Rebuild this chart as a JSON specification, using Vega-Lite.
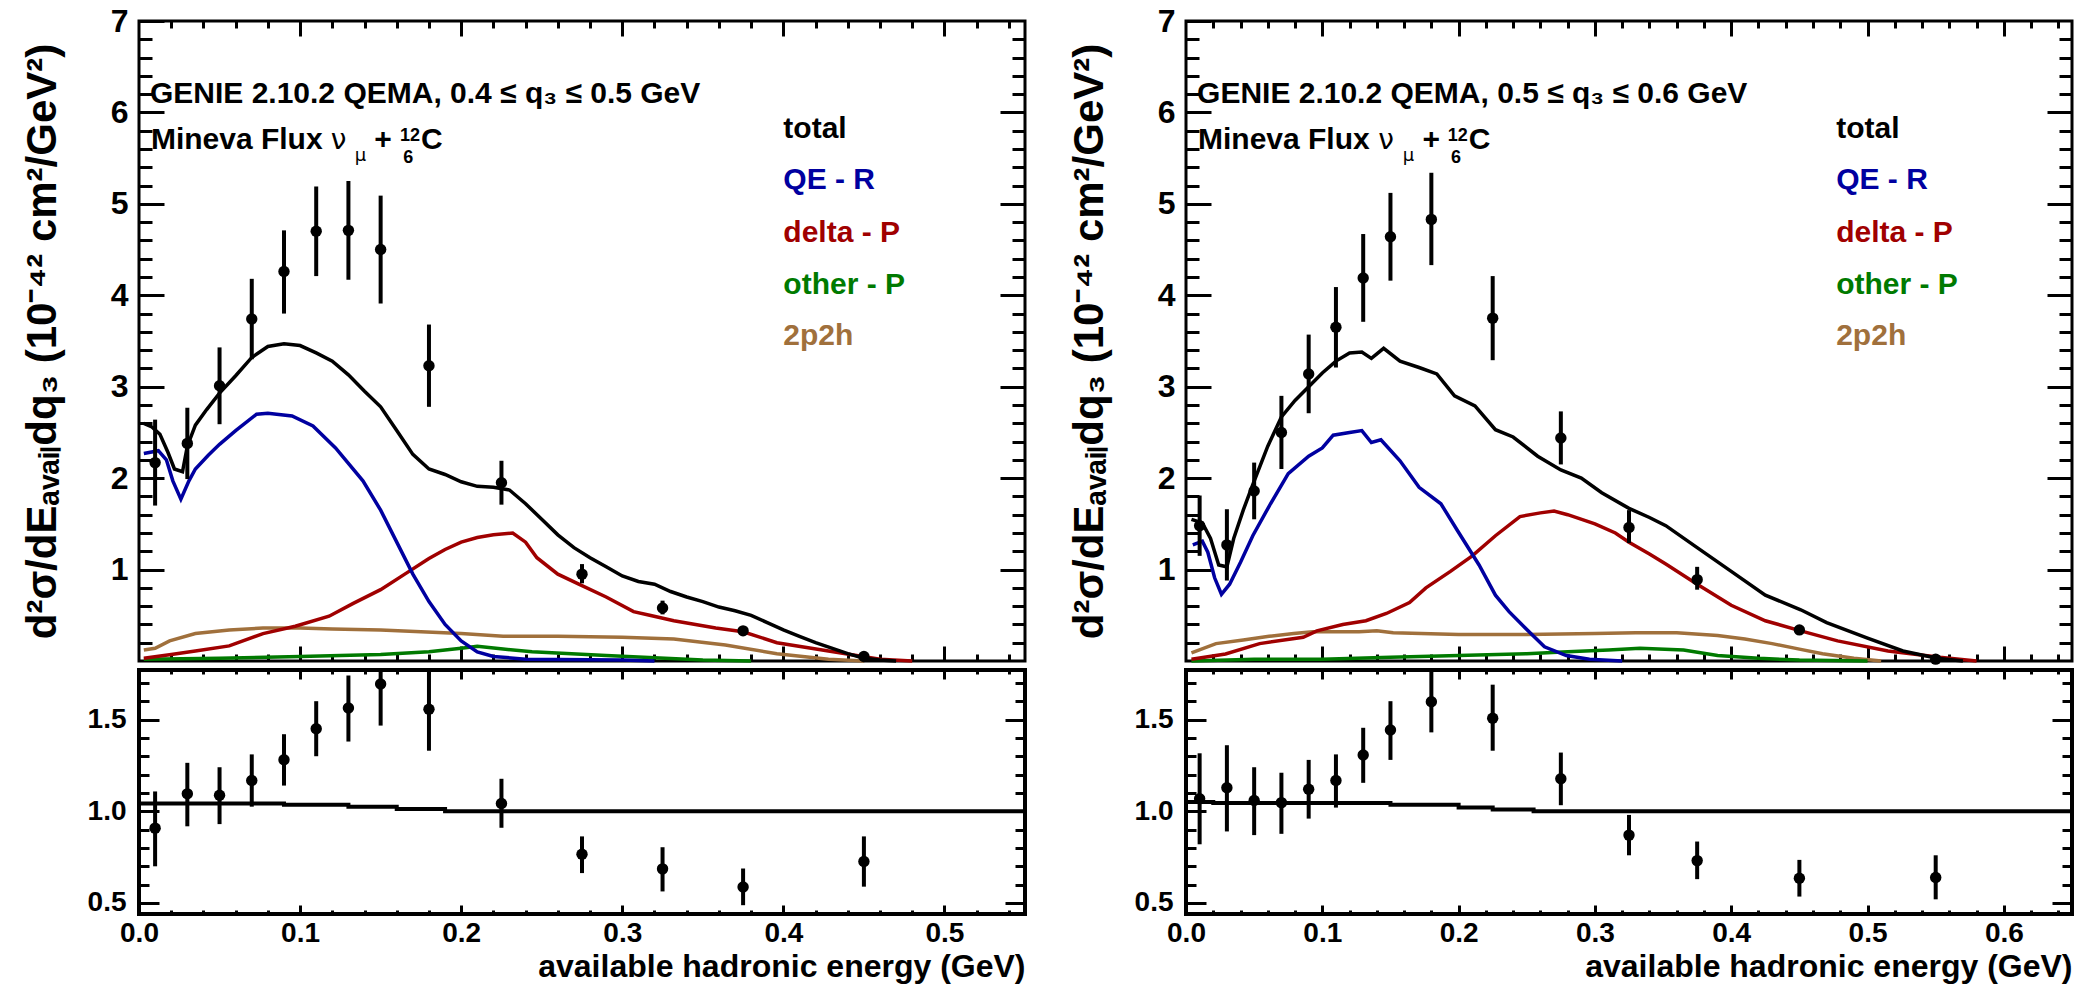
{
  "$schema": "https://vega.github.io/schema/vega-lite/v6.json",
  "background": "white",
  "padding": {"left": 19, "top": 3, "right": 5, "bottom": 2},
  "datasets": {
    "curves": [
      {"p":"L","s":"2p2h","x":0.003,"y":0.12},{"p":"L","s":"2p2h","x":0.01,"y":0.14},{"p":"L","s":"2p2h","x":0.019,"y":0.22},{"p":"L","s":"2p2h","x":0.035,"y":0.3},{"p":"L","s":"2p2h","x":0.056,"y":0.34},{"p":"L","s":"2p2h","x":0.077,"y":0.36},{"p":"L","s":"2p2h","x":0.1,"y":0.36},{"p":"L","s":"2p2h","x":0.12,"y":0.35},{"p":"L","s":"2p2h","x":0.15,"y":0.34},{"p":"L","s":"2p2h","x":0.2,"y":0.3},{"p":"L","s":"2p2h","x":0.226,"y":0.27},{"p":"L","s":"2p2h","x":0.26,"y":0.27},{"p":"L","s":"2p2h","x":0.3,"y":0.26},{"p":"L","s":"2p2h","x":0.332,"y":0.24},{"p":"L","s":"2p2h","x":0.364,"y":0.175},{"p":"L","s":"2p2h","x":0.396,"y":0.08},{"p":"L","s":"2p2h","x":0.428,"y":0.02},{"p":"L","s":"2p2h","x":0.45,"y":0.0},
      {"p":"L","s":"other - P","x":0.003,"y":0.02},{"p":"L","s":"other - P","x":0.05,"y":0.03},{"p":"L","s":"other - P","x":0.1,"y":0.05},{"p":"L","s":"other - P","x":0.15,"y":0.07},{"p":"L","s":"other - P","x":0.18,"y":0.1},{"p":"L","s":"other - P","x":0.2,"y":0.14},{"p":"L","s":"other - P","x":0.21,"y":0.16},{"p":"L","s":"other - P","x":0.226,"y":0.13},{"p":"L","s":"other - P","x":0.244,"y":0.1},{"p":"L","s":"other - P","x":0.29,"y":0.06},{"p":"L","s":"other - P","x":0.35,"y":0.01},{"p":"L","s":"other - P","x":0.38,"y":0.0},
      {"p":"L","s":"delta - P","x":0.003,"y":0.03},{"p":"L","s":"delta - P","x":0.02,"y":0.07},{"p":"L","s":"delta - P","x":0.035,"y":0.11},{"p":"L","s":"delta - P","x":0.056,"y":0.165},{"p":"L","s":"delta - P","x":0.077,"y":0.3},{"p":"L","s":"delta - P","x":0.097,"y":0.38},{"p":"L","s":"delta - P","x":0.118,"y":0.49},{"p":"L","s":"delta - P","x":0.133,"y":0.63},{"p":"L","s":"delta - P","x":0.15,"y":0.78},{"p":"L","s":"delta - P","x":0.165,"y":0.95},{"p":"L","s":"delta - P","x":0.18,"y":1.12},{"p":"L","s":"delta - P","x":0.19,"y":1.22},{"p":"L","s":"delta - P","x":0.2,"y":1.3},{"p":"L","s":"delta - P","x":0.21,"y":1.35},{"p":"L","s":"delta - P","x":0.22,"y":1.38},{"p":"L","s":"delta - P","x":0.232,"y":1.4},{"p":"L","s":"delta - P","x":0.24,"y":1.3},{"p":"L","s":"delta - P","x":0.247,"y":1.13},{"p":"L","s":"delta - P","x":0.26,"y":0.95},{"p":"L","s":"delta - P","x":0.273,"y":0.84},{"p":"L","s":"delta - P","x":0.29,"y":0.7},{"p":"L","s":"delta - P","x":0.307,"y":0.54},{"p":"L","s":"delta - P","x":0.317,"y":0.5},{"p":"L","s":"delta - P","x":0.332,"y":0.44},{"p":"L","s":"delta - P","x":0.358,"y":0.36},{"p":"L","s":"delta - P","x":0.375,"y":0.32},{"p":"L","s":"delta - P","x":0.396,"y":0.2},{"p":"L","s":"delta - P","x":0.428,"y":0.11},{"p":"L","s":"delta - P","x":0.46,"y":0.02},{"p":"L","s":"delta - P","x":0.48,"y":0.0},
      {"p":"L","s":"QE - R","x":0.003,"y":2.27},{"p":"L","s":"QE - R","x":0.012,"y":2.3},{"p":"L","s":"QE - R","x":0.017,"y":2.2},{"p":"L","s":"QE - R","x":0.021,"y":1.97},{"p":"L","s":"QE - R","x":0.026,"y":1.77},{"p":"L","s":"QE - R","x":0.031,"y":1.97},{"p":"L","s":"QE - R","x":0.035,"y":2.1},{"p":"L","s":"QE - R","x":0.043,"y":2.25},{"p":"L","s":"QE - R","x":0.05,"y":2.37},{"p":"L","s":"QE - R","x":0.06,"y":2.52},{"p":"L","s":"QE - R","x":0.073,"y":2.7},{"p":"L","s":"QE - R","x":0.08,"y":2.71},{"p":"L","s":"QE - R","x":0.095,"y":2.68},{"p":"L","s":"QE - R","x":0.108,"y":2.57},{"p":"L","s":"QE - R","x":0.122,"y":2.33},{"p":"L","s":"QE - R","x":0.139,"y":1.97},{"p":"L","s":"QE - R","x":0.15,"y":1.65},{"p":"L","s":"QE - R","x":0.16,"y":1.3},{"p":"L","s":"QE - R","x":0.17,"y":0.95},{"p":"L","s":"QE - R","x":0.18,"y":0.65},{"p":"L","s":"QE - R","x":0.19,"y":0.4},{"p":"L","s":"QE - R","x":0.2,"y":0.22},{"p":"L","s":"QE - R","x":0.21,"y":0.1},{"p":"L","s":"QE - R","x":0.22,"y":0.05},{"p":"L","s":"QE - R","x":0.24,"y":0.02},{"p":"L","s":"QE - R","x":0.3,"y":0.01},{"p":"L","s":"QE - R","x":0.32,"y":0.0},
      {"p":"L","s":"total","x":0.003,"y":2.6},{"p":"L","s":"total","x":0.008,"y":2.56},{"p":"L","s":"total","x":0.013,"y":2.48},{"p":"L","s":"total","x":0.018,"y":2.28},{"p":"L","s":"total","x":0.022,"y":2.1},{"p":"L","s":"total","x":0.027,"y":2.07},{"p":"L","s":"total","x":0.03,"y":2.35},{"p":"L","s":"total","x":0.035,"y":2.58},{"p":"L","s":"total","x":0.042,"y":2.75},{"p":"L","s":"total","x":0.05,"y":2.93},{"p":"L","s":"total","x":0.06,"y":3.12},{"p":"L","s":"total","x":0.07,"y":3.32},{"p":"L","s":"total","x":0.08,"y":3.44},{"p":"L","s":"total","x":0.09,"y":3.47},{"p":"L","s":"total","x":0.1,"y":3.45},{"p":"L","s":"total","x":0.11,"y":3.37},{"p":"L","s":"total","x":0.12,"y":3.28},{"p":"L","s":"total","x":0.13,"y":3.13},{"p":"L","s":"total","x":0.14,"y":2.95},{"p":"L","s":"total","x":0.15,"y":2.78},{"p":"L","s":"total","x":0.16,"y":2.52},{"p":"L","s":"total","x":0.17,"y":2.26},{"p":"L","s":"total","x":0.18,"y":2.1},{"p":"L","s":"total","x":0.19,"y":2.04},{"p":"L","s":"total","x":0.2,"y":1.96},{"p":"L","s":"total","x":0.21,"y":1.91},{"p":"L","s":"total","x":0.22,"y":1.9},{"p":"L","s":"total","x":0.23,"y":1.87},{"p":"L","s":"total","x":0.24,"y":1.72},{"p":"L","s":"total","x":0.25,"y":1.55},{"p":"L","s":"total","x":0.26,"y":1.38},{"p":"L","s":"total","x":0.27,"y":1.24},{"p":"L","s":"total","x":0.28,"y":1.13},{"p":"L","s":"total","x":0.29,"y":1.03},{"p":"L","s":"total","x":0.3,"y":0.93},{"p":"L","s":"total","x":0.31,"y":0.87},{"p":"L","s":"total","x":0.32,"y":0.84},{"p":"L","s":"total","x":0.33,"y":0.76},{"p":"L","s":"total","x":0.34,"y":0.7},{"p":"L","s":"total","x":0.35,"y":0.65},{"p":"L","s":"total","x":0.36,"y":0.59},{"p":"L","s":"total","x":0.37,"y":0.55},{"p":"L","s":"total","x":0.38,"y":0.5},{"p":"L","s":"total","x":0.39,"y":0.42},{"p":"L","s":"total","x":0.4,"y":0.34},{"p":"L","s":"total","x":0.41,"y":0.27},{"p":"L","s":"total","x":0.42,"y":0.2},{"p":"L","s":"total","x":0.43,"y":0.14},{"p":"L","s":"total","x":0.44,"y":0.08},{"p":"L","s":"total","x":0.45,"y":0.03},{"p":"L","s":"total","x":0.46,"y":0.01},{"p":"L","s":"total","x":0.47,"y":0.0},
      {"p":"R","s":"2p2h","x":0.004,"y":0.09},{"p":"R","s":"2p2h","x":0.022,"y":0.19},{"p":"R","s":"2p2h","x":0.042,"y":0.23},{"p":"R","s":"2p2h","x":0.061,"y":0.27},{"p":"R","s":"2p2h","x":0.079,"y":0.3},{"p":"R","s":"2p2h","x":0.093,"y":0.32},{"p":"R","s":"2p2h","x":0.127,"y":0.32},{"p":"R","s":"2p2h","x":0.14,"y":0.33},{"p":"R","s":"2p2h","x":0.152,"y":0.31},{"p":"R","s":"2p2h","x":0.2,"y":0.29},{"p":"R","s":"2p2h","x":0.25,"y":0.29},{"p":"R","s":"2p2h","x":0.3,"y":0.3},{"p":"R","s":"2p2h","x":0.33,"y":0.31},{"p":"R","s":"2p2h","x":0.36,"y":0.31},{"p":"R","s":"2p2h","x":0.39,"y":0.28},{"p":"R","s":"2p2h","x":0.41,"y":0.24},{"p":"R","s":"2p2h","x":0.43,"y":0.19},{"p":"R","s":"2p2h","x":0.45,"y":0.13},{"p":"R","s":"2p2h","x":0.467,"y":0.08},{"p":"R","s":"2p2h","x":0.49,"y":0.03},{"p":"R","s":"2p2h","x":0.51,"y":0.0},
      {"p":"R","s":"other - P","x":0.004,"y":0.0},{"p":"R","s":"other - P","x":0.05,"y":0.02},{"p":"R","s":"other - P","x":0.1,"y":0.02},{"p":"R","s":"other - P","x":0.15,"y":0.04},{"p":"R","s":"other - P","x":0.2,"y":0.06},{"p":"R","s":"other - P","x":0.25,"y":0.08},{"p":"R","s":"other - P","x":0.28,"y":0.1},{"p":"R","s":"other - P","x":0.31,"y":0.12},{"p":"R","s":"other - P","x":0.333,"y":0.14},{"p":"R","s":"other - P","x":0.365,"y":0.12},{"p":"R","s":"other - P","x":0.39,"y":0.06},{"p":"R","s":"other - P","x":0.42,"y":0.03},{"p":"R","s":"other - P","x":0.45,"y":0.01},{"p":"R","s":"other - P","x":0.5,"y":0.0},
      {"p":"R","s":"delta - P","x":0.004,"y":0.02},{"p":"R","s":"delta - P","x":0.029,"y":0.077},{"p":"R","s":"delta - P","x":0.054,"y":0.19},{"p":"R","s":"delta - P","x":0.086,"y":0.26},{"p":"R","s":"delta - P","x":0.096,"y":0.33},{"p":"R","s":"delta - P","x":0.115,"y":0.4},{"p":"R","s":"delta - P","x":0.132,"y":0.44},{"p":"R","s":"delta - P","x":0.147,"y":0.52},{"p":"R","s":"delta - P","x":0.164,"y":0.64},{"p":"R","s":"delta - P","x":0.176,"y":0.8},{"p":"R","s":"delta - P","x":0.194,"y":0.98},{"p":"R","s":"delta - P","x":0.21,"y":1.15},{"p":"R","s":"delta - P","x":0.227,"y":1.37},{"p":"R","s":"delta - P","x":0.245,"y":1.58},{"p":"R","s":"delta - P","x":0.26,"y":1.62},{"p":"R","s":"delta - P","x":0.27,"y":1.64},{"p":"R","s":"delta - P","x":0.28,"y":1.6},{"p":"R","s":"delta - P","x":0.3,"y":1.5},{"p":"R","s":"delta - P","x":0.315,"y":1.4},{"p":"R","s":"delta - P","x":0.325,"y":1.3},{"p":"R","s":"delta - P","x":0.34,"y":1.17},{"p":"R","s":"delta - P","x":0.352,"y":1.06},{"p":"R","s":"delta - P","x":0.375,"y":0.84},{"p":"R","s":"delta - P","x":0.4,"y":0.61},{"p":"R","s":"delta - P","x":0.425,"y":0.44},{"p":"R","s":"delta - P","x":0.451,"y":0.33},{"p":"R","s":"delta - P","x":0.478,"y":0.22},{"p":"R","s":"delta - P","x":0.515,"y":0.11},{"p":"R","s":"delta - P","x":0.553,"y":0.04},{"p":"R","s":"delta - P","x":0.58,"y":0.0},
      {"p":"R","s":"QE - R","x":0.005,"y":1.27},{"p":"R","s":"QE - R","x":0.012,"y":1.31},{"p":"R","s":"QE - R","x":0.016,"y":1.19},{"p":"R","s":"QE - R","x":0.021,"y":0.91},{"p":"R","s":"QE - R","x":0.026,"y":0.73},{"p":"R","s":"QE - R","x":0.032,"y":0.84},{"p":"R","s":"QE - R","x":0.04,"y":1.08},{"p":"R","s":"QE - R","x":0.049,"y":1.37},{"p":"R","s":"QE - R","x":0.062,"y":1.72},{"p":"R","s":"QE - R","x":0.075,"y":2.05},{"p":"R","s":"QE - R","x":0.09,"y":2.24},{"p":"R","s":"QE - R","x":0.1,"y":2.33},{"p":"R","s":"QE - R","x":0.108,"y":2.47},{"p":"R","s":"QE - R","x":0.12,"y":2.5},{"p":"R","s":"QE - R","x":0.129,"y":2.52},{"p":"R","s":"QE - R","x":0.136,"y":2.39},{"p":"R","s":"QE - R","x":0.143,"y":2.42},{"p":"R","s":"QE - R","x":0.157,"y":2.19},{"p":"R","s":"QE - R","x":0.171,"y":1.9},{"p":"R","s":"QE - R","x":0.187,"y":1.72},{"p":"R","s":"QE - R","x":0.199,"y":1.43},{"p":"R","s":"QE - R","x":0.215,"y":1.05},{"p":"R","s":"QE - R","x":0.227,"y":0.72},{"p":"R","s":"QE - R","x":0.237,"y":0.54},{"p":"R","s":"QE - R","x":0.253,"y":0.3},{"p":"R","s":"QE - R","x":0.263,"y":0.155},{"p":"R","s":"QE - R","x":0.279,"y":0.06},{"p":"R","s":"QE - R","x":0.296,"y":0.02},{"p":"R","s":"QE - R","x":0.32,"y":0.0},
      {"p":"R","s":"total","x":0.004,"y":1.55},{"p":"R","s":"total","x":0.012,"y":1.51},{"p":"R","s":"total","x":0.018,"y":1.34},{"p":"R","s":"total","x":0.024,"y":1.05},{"p":"R","s":"total","x":0.03,"y":1.03},{"p":"R","s":"total","x":0.035,"y":1.34},{"p":"R","s":"total","x":0.042,"y":1.65},{"p":"R","s":"total","x":0.049,"y":1.93},{"p":"R","s":"total","x":0.06,"y":2.35},{"p":"R","s":"total","x":0.07,"y":2.67},{"p":"R","s":"total","x":0.08,"y":2.85},{"p":"R","s":"total","x":0.09,"y":3.0},{"p":"R","s":"total","x":0.1,"y":3.15},{"p":"R","s":"total","x":0.11,"y":3.28},{"p":"R","s":"total","x":0.12,"y":3.37},{"p":"R","s":"total","x":0.129,"y":3.38},{"p":"R","s":"total","x":0.136,"y":3.31},{"p":"R","s":"total","x":0.145,"y":3.42},{"p":"R","s":"total","x":0.157,"y":3.28},{"p":"R","s":"total","x":0.171,"y":3.21},{"p":"R","s":"total","x":0.184,"y":3.14},{"p":"R","s":"total","x":0.197,"y":2.9},{"p":"R","s":"total","x":0.212,"y":2.79},{"p":"R","s":"total","x":0.227,"y":2.53},{"p":"R","s":"total","x":0.24,"y":2.45},{"p":"R","s":"total","x":0.258,"y":2.24},{"p":"R","s":"total","x":0.275,"y":2.09},{"p":"R","s":"total","x":0.29,"y":2.0},{"p":"R","s":"total","x":0.305,"y":1.84},{"p":"R","s":"total","x":0.325,"y":1.67},{"p":"R","s":"total","x":0.34,"y":1.57},{"p":"R","s":"total","x":0.352,"y":1.48},{"p":"R","s":"total","x":0.375,"y":1.24},{"p":"R","s":"total","x":0.4,"y":0.98},{"p":"R","s":"total","x":0.425,"y":0.72},{"p":"R","s":"total","x":0.451,"y":0.56},{"p":"R","s":"total","x":0.47,"y":0.42},{"p":"R","s":"total","x":0.5,"y":0.25},{"p":"R","s":"total","x":0.526,"y":0.11},{"p":"R","s":"total","x":0.551,"y":0.03},{"p":"R","s":"total","x":0.57,"y":0.0}
    ],
    "pts": [
      {"p":"L","x":0.01,"y":2.17,"lo":1.7,"hi":2.64},{"p":"L","x":0.03,"y":2.38,"lo":1.99,"hi":2.77},{"p":"L","x":0.05,"y":3.01,"lo":2.59,"hi":3.43},{"p":"L","x":0.07,"y":3.74,"lo":3.3,"hi":4.18},{"p":"L","x":0.09,"y":4.26,"lo":3.8,"hi":4.71},{"p":"L","x":0.11,"y":4.7,"lo":4.21,"hi":5.19},{"p":"L","x":0.13,"y":4.71,"lo":4.17,"hi":5.25},{"p":"L","x":0.15,"y":4.5,"lo":3.91,"hi":5.09},{"p":"L","x":0.18,"y":3.23,"lo":2.78,"hi":3.68},{"p":"L","x":0.225,"y":1.95,"lo":1.71,"hi":2.19},{"p":"L","x":0.275,"y":0.95,"lo":0.85,"hi":1.06},{"p":"L","x":0.325,"y":0.58,"lo":0.51,"hi":0.66},{"p":"L","x":0.375,"y":0.33,"lo":0.29,"hi":0.37},{"p":"L","x":0.45,"y":0.05,"lo":0.03,"hi":0.07},
      {"p":"R","x":0.01,"y":1.48,"lo":1.15,"hi":1.81},{"p":"R","x":0.03,"y":1.27,"lo":0.88,"hi":1.66},{"p":"R","x":0.05,"y":1.86,"lo":1.55,"hi":2.17},{"p":"R","x":0.07,"y":2.5,"lo":2.1,"hi":2.9},{"p":"R","x":0.09,"y":3.14,"lo":2.71,"hi":3.57},{"p":"R","x":0.11,"y":3.65,"lo":3.21,"hi":4.09},{"p":"R","x":0.13,"y":4.19,"lo":3.71,"hi":4.67},{"p":"R","x":0.15,"y":4.64,"lo":4.16,"hi":5.12},{"p":"R","x":0.18,"y":4.83,"lo":4.33,"hi":5.34},{"p":"R","x":0.225,"y":3.75,"lo":3.29,"hi":4.21},{"p":"R","x":0.275,"y":2.44,"lo":2.15,"hi":2.73},{"p":"R","x":0.325,"y":1.46,"lo":1.29,"hi":1.65},{"p":"R","x":0.375,"y":0.89,"lo":0.78,"hi":1.03},{"p":"R","x":0.45,"y":0.34,"lo":0.3,"hi":0.38},{"p":"R","x":0.55,"y":0.02,"lo":0.01,"hi":0.03}
    ],
    "ratio": [
      {"p":"L","x":0.01,"y":0.908,"lo":0.7,"hi":1.108},{"p":"L","x":0.03,"y":1.095,"lo":0.918,"hi":1.264},{"p":"L","x":0.05,"y":1.087,"lo":0.93,"hi":1.24},{"p":"L","x":0.07,"y":1.168,"lo":1.025,"hi":1.31},{"p":"L","x":0.09,"y":1.281,"lo":1.14,"hi":1.42},{"p":"L","x":0.11,"y":1.45,"lo":1.3,"hi":1.6},{"p":"L","x":0.13,"y":1.5625,"lo":1.38,"hi":1.74},{"p":"L","x":0.15,"y":1.694,"lo":1.467,"hi":1.92},{"p":"L","x":0.18,"y":1.556,"lo":1.33,"hi":1.78},{"p":"L","x":0.225,"y":1.042,"lo":0.91,"hi":1.177},{"p":"L","x":0.275,"y":0.766,"lo":0.663,"hi":0.863},{"p":"L","x":0.325,"y":0.686,"lo":0.563,"hi":0.804},{"p":"L","x":0.375,"y":0.587,"lo":0.488,"hi":0.688},{"p":"L","x":0.45,"y":0.726,"lo":0.589,"hi":0.863},
      {"p":"R","x":0.01,"y":1.068,"lo":0.82,"hi":1.316},{"p":"R","x":0.03,"y":1.128,"lo":0.89,"hi":1.36},{"p":"R","x":0.05,"y":1.059,"lo":0.87,"hi":1.24},{"p":"R","x":0.07,"y":1.047,"lo":0.877,"hi":1.21},{"p":"R","x":0.09,"y":1.12,"lo":0.96,"hi":1.28},{"p":"R","x":0.11,"y":1.168,"lo":1.02,"hi":1.31},{"p":"R","x":0.13,"y":1.307,"lo":1.155,"hi":1.455},{"p":"R","x":0.15,"y":1.443,"lo":1.28,"hi":1.6},{"p":"R","x":0.18,"y":1.597,"lo":1.43,"hi":1.78},{"p":"R","x":0.225,"y":1.507,"lo":1.33,"hi":1.69},{"p":"R","x":0.275,"y":1.177,"lo":1.033,"hi":1.32},{"p":"R","x":0.325,"y":0.87,"lo":0.76,"hi":0.98},{"p":"R","x":0.375,"y":0.731,"lo":0.63,"hi":0.835},{"p":"R","x":0.45,"y":0.635,"lo":0.535,"hi":0.735},{"p":"R","x":0.55,"y":0.639,"lo":0.52,"hi":0.76}
    ],
    "rmodel": [
      {"p":"L","x":0.0,"y":1.042},{"p":"L","x":0.09,"y":1.035},{"p":"L","x":0.13,"y":1.024},{"p":"L","x":0.16,"y":1.012},{"p":"L","x":0.19,"y":1.0},{"p":"L","x":0.55,"y":1.0},
      {"p":"R","x":0.0,"y":1.05},{"p":"R","x":0.02,"y":1.045},{"p":"R","x":0.15,"y":1.035},{"p":"R","x":0.2,"y":1.02},{"p":"R","x":0.225,"y":1.01},{"p":"R","x":0.255,"y":1.0},{"p":"R","x":0.65,"y":1.0}
    ],
    "legend": [
      {"p":"L","s":"total","x":0.4,"y":5.82},{"p":"L","s":"QE - R","x":0.4,"y":5.26},{"p":"L","s":"delta - P","x":0.4,"y":4.68},{"p":"L","s":"other - P","x":0.4,"y":4.11},{"p":"L","s":"2p2h","x":0.4,"y":3.55},
      {"p":"R","s":"total","x":0.477,"y":5.82},{"p":"R","s":"QE - R","x":0.477,"y":5.26},{"p":"R","s":"delta - P","x":0.477,"y":4.68},{"p":"R","s":"other - P","x":0.477,"y":4.11},{"p":"R","s":"2p2h","x":0.477,"y":3.55}
    ],
    "annoBold": [
      {"p":"L","t":"GENIE 2.10.2 QEMA, 0.4 ≤ q₃  ≤ 0.5 GeV","x":0.0068,"y":6.1},{"p":"L","t":"Mineva Flux","x":0.0074,"y":5.6},{"p":"L","t":"+","x":0.146,"y":5.6},{"p":"L","t":"C","x":0.175,"y":5.6},
      {"p":"R","t":"GENIE 2.10.2 QEMA, 0.5 ≤ q₃  ≤ 0.6 GeV","x":0.0081,"y":6.1},{"p":"R","t":"Mineva Flux","x":0.0088,"y":5.6},{"p":"R","t":"+","x":0.1735,"y":5.6},{"p":"R","t":"C","x":0.2074,"y":5.6}
    ],
    "annoGreek": [
      {"p":"L","t":"ν","x":0.119,"y":5.6},{"p":"R","t":"ν","x":0.141,"y":5.6}
    ],
    "annoSub": [
      {"p":"L","t":"μ","x":0.134,"y":5.47},{"p":"R","t":"μ","x":0.159,"y":5.47}
    ],
    "annoNuc": [
      {"p":"L","t":"12","x":0.162,"y":5.69},{"p":"L","t":"6","x":0.164,"y":5.45},
      {"p":"R","t":"12","x":0.192,"y":5.69},{"p":"R","t":"6","x":0.1945,"y":5.45}
    ]
  },
  "spacing": 31,
  "hconcat": [
    {
      "spacing": -6,
      "vconcat": [
        {
          "width": 886, "height": 640,
          "view": {"stroke": "black", "strokeWidth": 3},
          "resolve": {"axis": {"x": "independent", "y": "independent"}},
          "layer": [
            {
              "data": {"name": "curves"},
              "transform": [{"filter": "datum.p === 'L'"}],
              "mark": {"type": "line", "strokeWidth": 3.5},
              "encoding": {
                "x": {"field": "x", "type": "quantitative", "scale": {"domain": [0, 0.55], "nice": false, "zero": false},
                      "axis": {"orient": "bottom", "values": [0.1,0.2,0.3,0.4,0.5], "tickSize": -15, "labels": false, "title": null}},
                "y": {"field": "y", "type": "quantitative", "scale": {"domain": [0, 7], "nice": false},
                      "axis": {"orient": "left", "values": [1,2,3,4,5,6,7], "tickSize": -25, "labelPadding": 36, "labelFontSize": 32, "title": "d²σ/dEₐᵥₐᵢₗdq₃ (10⁻⁴² cm²/GeV²)", "titleFontSize": 42, "titlePadding": 46}},
                "color": {"field": "s", "type": "nominal", "scale": {"domain": ["total","QE - R","delta - P","other - P","2p2h"], "range": ["#000000","#0000a0","#a00000","#007a00","#a0703c"]}, "legend": null}
              }
            },
            {
              "data": {"name": "pts"},
              "transform": [{"filter": "datum.p === 'L'"}],
              "mark": {"type": "rule", "strokeWidth": 4, "color": "black"},
              "encoding": {
                "x": {"field": "x", "type": "quantitative", "axis": {"orient": "bottom", "values": [0.02,0.04,0.06,0.08,0.12,0.14,0.16,0.18,0.22,0.24,0.26,0.28,0.32,0.34,0.36,0.38,0.42,0.44,0.46,0.48,0.52,0.54], "tickSize": -7, "labels": false, "title": null}},
                "y": {"field": "lo", "type": "quantitative", "axis": {"orient": "left", "values": [0.2,0.4,0.6,0.8,1.2,1.4,1.6,1.8,2.2,2.4,2.6,2.8,3.2,3.4,3.6,3.8,4.2,4.4,4.6,4.8,5.2,5.4,5.6,5.8,6.2,6.4,6.6,6.8], "tickSize": -13, "labels": false, "title": null}},
                "y2": {"field": "hi"}
              }
            },
            {
              "data": {"name": "pts"},
              "transform": [{"filter": "datum.p === 'L'"}],
              "mark": {"type": "circle", "size": 130, "opacity": 1, "color": "black"},
              "encoding": {
                "x": {"field": "x", "type": "quantitative", "axis": {"orient": "top", "values": [0.1,0.2,0.3,0.4,0.5], "tickSize": -15, "labels": false, "title": null}},
                "y": {"field": "y", "type": "quantitative", "axis": {"orient": "right", "values": [1,2,3,4,5,6], "tickSize": -25, "labels": false, "title": null}}
              }
            },
            {
              "data": {"name": "legend"},
              "transform": [{"filter": "datum.p === 'L'"}],
              "mark": {"type": "text", "align": "left", "baseline": "middle", "fontSize": 30, "fontWeight": "bold", "font": "Liberation Sans"},
              "encoding": {
                "x": {"field": "x", "type": "quantitative", "axis": {"orient": "top", "values": [0.02,0.04,0.06,0.08,0.12,0.14,0.16,0.18,0.22,0.24,0.26,0.28,0.32,0.34,0.36,0.38,0.42,0.44,0.46,0.48,0.52,0.54], "tickSize": -7, "labels": false, "title": null}},
                "y": {"field": "y", "type": "quantitative", "axis": {"orient": "right", "values": [0.2,0.4,0.6,0.8,1.2,1.4,1.6,1.8,2.2,2.4,2.6,2.8,3.2,3.4,3.6,3.8,4.2,4.4,4.6,4.8,5.2,5.4,5.6,5.8,6.2,6.4,6.6,6.8], "tickSize": -13, "labels": false, "title": null}},
                "text": {"field": "s"},
                "color": {"field": "s", "type": "nominal", "legend": null}
              }
            },
            {
              "data": {"name": "annoBold"},
              "transform": [{"filter": "datum.p === 'L'"}],
              "mark": {"type": "text", "align": "left", "baseline": "alphabetic", "fontSize": 30, "fontWeight": "bold", "font": "Liberation Sans", "color": "black"},
              "encoding": {"x": {"field": "x", "type": "quantitative", "axis": null}, "y": {"field": "y", "type": "quantitative", "axis": null}, "text": {"field": "t"}}
            },
            {
              "data": {"name": "annoGreek"},
              "transform": [{"filter": "datum.p === 'L'"}],
              "mark": {"type": "text", "align": "left", "baseline": "alphabetic", "fontSize": 28, "fontWeight": "normal", "font": "DejaVu Sans", "color": "black"},
              "encoding": {"x": {"field": "x", "type": "quantitative", "axis": null}, "y": {"field": "y", "type": "quantitative", "axis": null}, "text": {"field": "t"}}
            },
            {
              "data": {"name": "annoSub"},
              "transform": [{"filter": "datum.p === 'L'"}],
              "mark": {"type": "text", "align": "left", "baseline": "alphabetic", "fontSize": 18, "fontWeight": "normal", "font": "DejaVu Sans", "color": "black"},
              "encoding": {"x": {"field": "x", "type": "quantitative", "axis": null}, "y": {"field": "y", "type": "quantitative", "axis": null}, "text": {"field": "t"}}
            },
            {
              "data": {"name": "annoNuc"},
              "transform": [{"filter": "datum.p === 'L'"}],
              "mark": {"type": "text", "align": "left", "baseline": "alphabetic", "fontSize": 18, "fontWeight": "bold", "font": "Liberation Sans", "color": "black"},
              "encoding": {"x": {"field": "x", "type": "quantitative", "axis": null}, "y": {"field": "y", "type": "quantitative", "axis": null}, "text": {"field": "t"}}
            }
          ]
        },
        {
          "width": 886, "height": 244,
          "view": {"stroke": "black", "strokeWidth": 4},
          "resolve": {"axis": {"x": "independent", "y": "independent"}},
          "layer": [
            {
              "data": {"name": "rmodel"},
              "transform": [{"filter": "datum.p === 'L'"}],
              "mark": {"type": "line", "strokeWidth": 4, "color": "black", "interpolate": "step-after"},
              "encoding": {
                "x": {"field": "x", "type": "quantitative", "scale": {"domain": [0, 0.55], "nice": false, "zero": false},
                      "axis": {"orient": "bottom", "values": [0,0.1,0.2,0.3,0.4,0.5], "format": ".1f", "tickSize": -9, "labelPadding": 14, "labelFontSize": 28, "title": "available hadronic energy (GeV)", "titleFontSize": 32, "titleAnchor": "end", "titlePadding": 4}},
                "y": {"field": "y", "type": "quantitative", "scale": {"domain": [0.44, 1.77], "nice": false, "zero": false},
                      "axis": {"orient": "left", "values": [0.5,1.0,1.5], "format": ".1f", "tickSize": -20, "labelPadding": 33, "labelFontSize": 28, "title": null}}
              }
            },
            {
              "data": {"name": "ratio"},
              "transform": [{"filter": "datum.p === 'L'"}],
              "mark": {"type": "rule", "strokeWidth": 4, "color": "black", "clip": true},
              "encoding": {
                "x": {"field": "x", "type": "quantitative", "axis": {"orient": "bottom", "values": [0.02,0.04,0.06,0.08,0.12,0.14,0.16,0.18,0.22,0.24,0.26,0.28,0.32,0.34,0.36,0.38,0.42,0.44,0.46,0.48,0.52,0.54], "tickSize": -4, "labels": false, "title": null}},
                "y": {"field": "lo", "type": "quantitative", "axis": {"orient": "left", "values": [0.6,0.7,0.8,0.9,1.1,1.2,1.3,1.4,1.6,1.7], "tickSize": -10, "labels": false, "title": null}},
                "y2": {"field": "hi"}
              }
            },
            {
              "data": {"name": "ratio"},
              "transform": [{"filter": "datum.p === 'L'"}],
              "mark": {"type": "circle", "size": 130, "opacity": 1, "color": "black"},
              "encoding": {
                "x": {"field": "x", "type": "quantitative", "axis": {"orient": "top", "values": [0.1,0.2,0.3,0.4,0.5], "tickSize": -9, "labels": false, "title": null}},
                "y": {"field": "y", "type": "quantitative", "axis": {"orient": "right", "values": [0.5,1.0,1.5], "tickSize": -20, "labels": false, "title": null}}
              }
            },
            {
              "data": {"name": "ratio"},
              "transform": [{"filter": "datum.p === 'L'"}],
              "mark": {"type": "point", "shape": "circle", "size": 100, "filled": true, "opacity": 1, "color": "black"},
              "encoding": {
                "x": {"field": "x", "type": "quantitative", "axis": {"orient": "top", "values": [0.02,0.04,0.06,0.08,0.12,0.14,0.16,0.18,0.22,0.24,0.26,0.28,0.32,0.34,0.36,0.38,0.42,0.44,0.46,0.48,0.52,0.54], "tickSize": -4, "labels": false, "title": null}},
                "y": {"field": "y", "type": "quantitative", "axis": {"orient": "right", "values": [0.6,0.7,0.8,0.9,1.1,1.2,1.3,1.4,1.6,1.7], "tickSize": -10, "labels": false, "title": null}}
              }
            }
          ]
        }
      ]
    },
    {
      "spacing": -6,
      "vconcat": [
        {
          "width": 886, "height": 640,
          "view": {"stroke": "black", "strokeWidth": 3},
          "resolve": {"axis": {"x": "independent", "y": "independent"}},
          "layer": [
            {
              "data": {"name": "curves"},
              "transform": [{"filter": "datum.p === 'R'"}],
              "mark": {"type": "line", "strokeWidth": 3.5},
              "encoding": {
                "x": {"field": "x", "type": "quantitative", "scale": {"domain": [0, 0.65], "nice": false, "zero": false},
                      "axis": {"orient": "bottom", "values": [0.1,0.2,0.3,0.4,0.5,0.6], "tickSize": -15, "labels": false, "title": null}},
                "y": {"field": "y", "type": "quantitative", "scale": {"domain": [0, 7], "nice": false},
                      "axis": {"orient": "left", "values": [1,2,3,4,5,6,7], "tickSize": -25, "labelPadding": 36, "labelFontSize": 32, "title": "d²σ/dEₐᵥₐᵢₗdq₃ (10⁻⁴² cm²/GeV²)", "titleFontSize": 42, "titlePadding": 46}},
                "color": {"field": "s", "type": "nominal", "scale": {"domain": ["total","QE - R","delta - P","other - P","2p2h"], "range": ["#000000","#0000a0","#a00000","#007a00","#a0703c"]}, "legend": null}
              }
            },
            {
              "data": {"name": "pts"},
              "transform": [{"filter": "datum.p === 'R'"}],
              "mark": {"type": "rule", "strokeWidth": 4, "color": "black"},
              "encoding": {
                "x": {"field": "x", "type": "quantitative", "axis": {"orient": "bottom", "values": [0.02,0.04,0.06,0.08,0.12,0.14,0.16,0.18,0.22,0.24,0.26,0.28,0.32,0.34,0.36,0.38,0.42,0.44,0.46,0.48,0.52,0.54,0.56,0.58,0.62,0.64], "tickSize": -7, "labels": false, "title": null}},
                "y": {"field": "lo", "type": "quantitative", "axis": {"orient": "left", "values": [0.2,0.4,0.6,0.8,1.2,1.4,1.6,1.8,2.2,2.4,2.6,2.8,3.2,3.4,3.6,3.8,4.2,4.4,4.6,4.8,5.2,5.4,5.6,5.8,6.2,6.4,6.6,6.8], "tickSize": -13, "labels": false, "title": null}},
                "y2": {"field": "hi"}
              }
            },
            {
              "data": {"name": "pts"},
              "transform": [{"filter": "datum.p === 'R'"}],
              "mark": {"type": "circle", "size": 130, "opacity": 1, "color": "black"},
              "encoding": {
                "x": {"field": "x", "type": "quantitative", "axis": {"orient": "top", "values": [0.1,0.2,0.3,0.4,0.5,0.6], "tickSize": -15, "labels": false, "title": null}},
                "y": {"field": "y", "type": "quantitative", "axis": {"orient": "right", "values": [1,2,3,4,5,6], "tickSize": -25, "labels": false, "title": null}}
              }
            },
            {
              "data": {"name": "legend"},
              "transform": [{"filter": "datum.p === 'R'"}],
              "mark": {"type": "text", "align": "left", "baseline": "middle", "fontSize": 30, "fontWeight": "bold", "font": "Liberation Sans"},
              "encoding": {
                "x": {"field": "x", "type": "quantitative", "axis": {"orient": "top", "values": [0.02,0.04,0.06,0.08,0.12,0.14,0.16,0.18,0.22,0.24,0.26,0.28,0.32,0.34,0.36,0.38,0.42,0.44,0.46,0.48,0.52,0.54,0.56,0.58,0.62,0.64], "tickSize": -7, "labels": false, "title": null}},
                "y": {"field": "y", "type": "quantitative", "axis": {"orient": "right", "values": [0.2,0.4,0.6,0.8,1.2,1.4,1.6,1.8,2.2,2.4,2.6,2.8,3.2,3.4,3.6,3.8,4.2,4.4,4.6,4.8,5.2,5.4,5.6,5.8,6.2,6.4,6.6,6.8], "tickSize": -13, "labels": false, "title": null}},
                "text": {"field": "s"},
                "color": {"field": "s", "type": "nominal", "legend": null}
              }
            },
            {
              "data": {"name": "annoBold"},
              "transform": [{"filter": "datum.p === 'R'"}],
              "mark": {"type": "text", "align": "left", "baseline": "alphabetic", "fontSize": 30, "fontWeight": "bold", "font": "Liberation Sans", "color": "black"},
              "encoding": {"x": {"field": "x", "type": "quantitative", "axis": null}, "y": {"field": "y", "type": "quantitative", "axis": null}, "text": {"field": "t"}}
            },
            {
              "data": {"name": "annoGreek"},
              "transform": [{"filter": "datum.p === 'R'"}],
              "mark": {"type": "text", "align": "left", "baseline": "alphabetic", "fontSize": 28, "fontWeight": "normal", "font": "DejaVu Sans", "color": "black"},
              "encoding": {"x": {"field": "x", "type": "quantitative", "axis": null}, "y": {"field": "y", "type": "quantitative", "axis": null}, "text": {"field": "t"}}
            },
            {
              "data": {"name": "annoSub"},
              "transform": [{"filter": "datum.p === 'R'"}],
              "mark": {"type": "text", "align": "left", "baseline": "alphabetic", "fontSize": 18, "fontWeight": "normal", "font": "DejaVu Sans", "color": "black"},
              "encoding": {"x": {"field": "x", "type": "quantitative", "axis": null}, "y": {"field": "y", "type": "quantitative", "axis": null}, "text": {"field": "t"}}
            },
            {
              "data": {"name": "annoNuc"},
              "transform": [{"filter": "datum.p === 'R'"}],
              "mark": {"type": "text", "align": "left", "baseline": "alphabetic", "fontSize": 18, "fontWeight": "bold", "font": "Liberation Sans", "color": "black"},
              "encoding": {"x": {"field": "x", "type": "quantitative", "axis": null}, "y": {"field": "y", "type": "quantitative", "axis": null}, "text": {"field": "t"}}
            }
          ]
        },
        {
          "width": 886, "height": 244,
          "view": {"stroke": "black", "strokeWidth": 4},
          "resolve": {"axis": {"x": "independent", "y": "independent"}},
          "layer": [
            {
              "data": {"name": "rmodel"},
              "transform": [{"filter": "datum.p === 'R'"}],
              "mark": {"type": "line", "strokeWidth": 4, "color": "black", "interpolate": "step-after"},
              "encoding": {
                "x": {"field": "x", "type": "quantitative", "scale": {"domain": [0, 0.65], "nice": false, "zero": false},
                      "axis": {"orient": "bottom", "values": [0,0.1,0.2,0.3,0.4,0.5,0.6], "format": ".1f", "tickSize": -9, "labelPadding": 14, "labelFontSize": 28, "title": "available hadronic energy (GeV)", "titleFontSize": 32, "titleAnchor": "end", "titlePadding": 4}},
                "y": {"field": "y", "type": "quantitative", "scale": {"domain": [0.44, 1.77], "nice": false, "zero": false},
                      "axis": {"orient": "left", "values": [0.5,1.0,1.5], "format": ".1f", "tickSize": -20, "labelPadding": 33, "labelFontSize": 28, "title": null}}
              }
            },
            {
              "data": {"name": "ratio"},
              "transform": [{"filter": "datum.p === 'R'"}],
              "mark": {"type": "rule", "strokeWidth": 4, "color": "black", "clip": true},
              "encoding": {
                "x": {"field": "x", "type": "quantitative", "axis": {"orient": "bottom", "values": [0.02,0.04,0.06,0.08,0.12,0.14,0.16,0.18,0.22,0.24,0.26,0.28,0.32,0.34,0.36,0.38,0.42,0.44,0.46,0.48,0.52,0.54,0.56,0.58,0.62,0.64], "tickSize": -4, "labels": false, "title": null}},
                "y": {"field": "lo", "type": "quantitative", "axis": {"orient": "left", "values": [0.6,0.7,0.8,0.9,1.1,1.2,1.3,1.4,1.6,1.7], "tickSize": -10, "labels": false, "title": null}},
                "y2": {"field": "hi"}
              }
            },
            {
              "data": {"name": "ratio"},
              "transform": [{"filter": "datum.p === 'R'"}],
              "mark": {"type": "circle", "size": 130, "opacity": 1, "color": "black"},
              "encoding": {
                "x": {"field": "x", "type": "quantitative", "axis": {"orient": "top", "values": [0.1,0.2,0.3,0.4,0.5,0.6], "tickSize": -9, "labels": false, "title": null}},
                "y": {"field": "y", "type": "quantitative", "axis": {"orient": "right", "values": [0.5,1.0,1.5], "tickSize": -20, "labels": false, "title": null}}
              }
            },
            {
              "data": {"name": "ratio"},
              "transform": [{"filter": "datum.p === 'R'"}],
              "mark": {"type": "point", "shape": "circle", "size": 100, "filled": true, "opacity": 1, "color": "black"},
              "encoding": {
                "x": {"field": "x", "type": "quantitative", "axis": {"orient": "top", "values": [0.02,0.04,0.06,0.08,0.12,0.14,0.16,0.18,0.22,0.24,0.26,0.28,0.32,0.34,0.36,0.38,0.42,0.44,0.46,0.48,0.52,0.54,0.56,0.58,0.62,0.64], "tickSize": -4, "labels": false, "title": null}},
                "y": {"field": "y", "type": "quantitative", "axis": {"orient": "right", "values": [0.6,0.7,0.8,0.9,1.1,1.2,1.3,1.4,1.6,1.7], "tickSize": -10, "labels": false, "title": null}}
              }
            }
          ]
        }
      ]
    }
  ],
  "config": {
    "font": "Liberation Sans",
    "view": {"stroke": "black", "strokeWidth": 3},
    "axis": {"domain": false, "grid": false, "tickColor": "black", "tickWidth": 3, "labelFont": "Liberation Sans", "labelFontWeight": "bold", "labelColor": "black", "labelFlush": false, "labelOverlap": false, "labelBound": false, "titleFont": "Liberation Sans", "titleFontWeight": "bold", "titleColor": "black"}
  }
}
